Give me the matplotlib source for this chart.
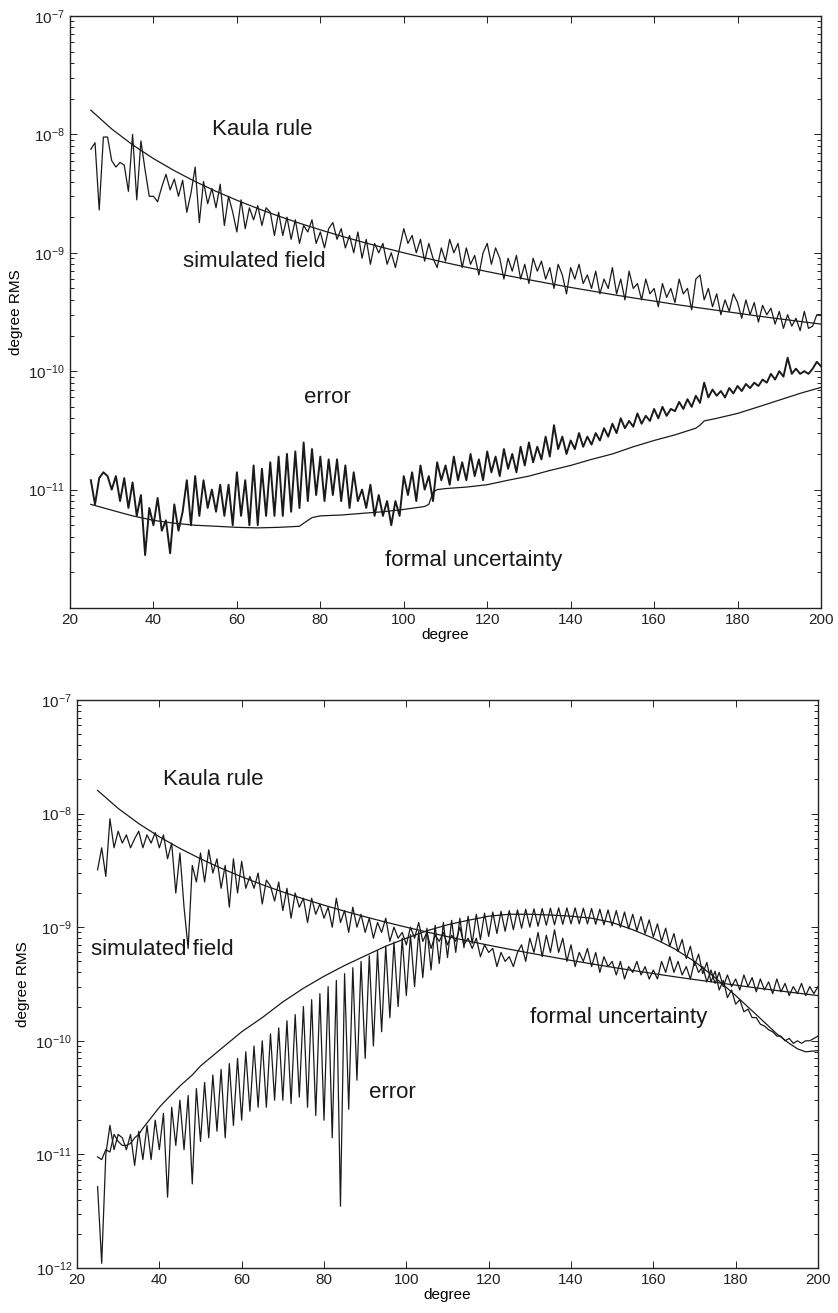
import numpy as np
import matplotlib
matplotlib.use("Agg")
import matplotlib.pyplot as plt
from matplotlib.ticker import FixedLocator, LogLocator, NullFormatter, FuncFormatter

plt.rcParams['font.family'] = ['Liberation Sans', 'DejaVu Sans']
plt.rcParams['mathtext.fontset'] = 'custom'
plt.rcParams['mathtext.rm'] = 'Liberation Sans'
plt.rcParams['mathtext.it'] = 'Liberation Sans:italic'
plt.rcParams['mathtext.default'] = 'regular'

# ---------------------------------------------------------------- data
degrees = np.arange(25, 201)

# Kaula rule (units 1e-9)
kaula_deg = np.arange(25, 201, 5)
kaula_val = [16.0, 11.11, 8.163, 6.25, 4.938, 4.0, 3.306, 2.778, 2.367, 2.041,
             1.778, 1.5625, 1.384, 1.235, 1.108, 1.0, 0.907, 0.826, 0.756, 0.694,
             0.64, 0.592, 0.549, 0.510, 0.476, 0.444, 0.416, 0.391, 0.367, 0.346,
             0.327, 0.309, 0.292, 0.277, 0.263, 0.25]

# upper panel: simulated field (units 1e-9), one value per degree 25..200
sim_top = [7.5, 8.5, 2.3, 9.5, 9.5, 6.0, 5.3, 5.8, 5.5, 3.3,
           10.0, 2.8, 8.8, 5.0, 3.0, 3.0, 2.7, 3.6, 4.6, 3.4,
           4.2, 3.0, 4.1, 2.2, 3.2, 5.3, 1.8, 4.0, 2.6, 3.5,
           2.4, 3.8, 1.7, 3.0, 2.2, 1.5, 2.8, 1.6, 2.4, 1.9,
           2.5, 1.7, 2.4, 2.2, 1.4, 2.2, 1.4, 2.0, 1.3, 1.9,
           1.2, 1.7, 1.5, 1.9, 1.2, 1.5, 1.1, 1.6, 1.8, 1.3,
           1.6, 1.1, 1.4, 1.0, 1.5, 0.9, 1.3, 0.8, 1.2, 1.0,
           1.2, 0.8, 1.0, 0.75, 1.1, 1.6, 1.2, 1.4, 1.0, 1.3,
           0.85, 1.2, 0.9, 0.75, 1.1, 0.85, 1.3, 1.0, 1.2, 0.75,
           1.1, 0.8, 0.95, 0.65, 1.0, 1.2, 0.8, 1.1, 0.9, 0.6,
           0.9, 0.7, 0.95, 0.6, 0.8, 0.55, 0.9, 0.7, 0.85, 0.6,
           0.75, 0.5, 0.8, 0.65, 0.45, 0.75, 0.6, 0.8, 0.55, 0.65,
           0.5, 0.7, 0.45, 0.6, 0.5, 0.75, 0.45, 0.6, 0.4, 0.7,
           0.5, 0.55, 0.4, 0.6, 0.45, 0.5, 0.35, 0.55, 0.42, 0.5,
           0.38, 0.6, 0.45, 0.5, 0.33, 0.6, 0.65, 0.4, 0.5, 0.35,
           0.45, 0.3, 0.4, 0.32, 0.45, 0.38, 0.28, 0.4, 0.3, 0.38,
           0.26, 0.36, 0.3, 0.34, 0.25, 0.32, 0.23, 0.3, 0.24, 0.28,
           0.22, 0.32, 0.23, 0.24, 0.3, 0.3]

# upper panel: error (units 1e-12)
err_top = [12, 7.5, 12.5, 14, 13, 10, 13, 8, 12.5, 7,
           11.5, 6, 9, 2.8, 7, 5, 8.5, 4.5, 5.5, 2.9,
           7.5, 4.5, 6.5, 12, 5, 13, 6, 12, 7, 10,
           6.5, 11, 6, 11, 5, 14, 6, 12, 5, 16,
           5, 15, 6, 17, 6, 19, 6, 20, 6.5, 21,
           7, 25, 8, 22, 9, 19, 8, 18, 9, 18,
           8, 16, 7, 14, 8, 10, 7, 11, 6, 9,
           6, 8, 5, 8, 6, 13, 9, 14, 8, 16,
           10, 13, 8, 17, 12, 16, 11, 19, 12, 17,
           12, 20, 13, 18, 12, 21, 14, 19, 13, 22,
           15, 20, 14, 23, 16, 25, 17, 23, 18, 28,
           19, 35, 22, 28, 20, 26, 22, 30, 23, 28,
           24, 30, 26, 33, 28, 36, 30, 40, 33, 38,
           34, 44, 36, 42, 38, 48, 40, 50, 42, 48,
           46, 55, 48, 58, 50, 62, 54, 80, 60, 70,
           62, 68, 60, 72, 65, 75, 68, 78, 72, 80,
           75, 85, 80, 95, 85, 100, 90, 130, 95, 105,
           95, 100, 95, 105, 120, 110]

# upper panel: formal uncertainty (units 1e-12)
formal_top_deg = [25, 30, 35, 40, 45, 50, 55, 60, 65, 70, 75, 76, 78, 80, 85, 90,
                  95, 100, 105, 106, 107, 108, 110, 115, 120, 125, 130, 135, 140,
                  145, 150, 155, 160, 165, 170, 171, 172, 175, 180, 185, 190, 195, 200]
formal_top_val = [7.5, 6.7, 6.0, 5.5, 5.2, 5.0, 4.9, 4.8, 4.75, 4.8, 4.9, 5.2, 5.8,
                  6.0, 6.1, 6.3, 6.5, 6.8, 7.2, 7.5, 9.5, 10.0, 10.2, 10.5, 11, 12,
                  13, 14.5, 16, 18, 20, 23, 26, 29, 33, 35, 38, 40, 44, 50, 57, 65, 73]

# lower panel: simulated field (units 1e-9)
sim_bot = [3.2, 5.0, 2.8, 9.0, 5.0, 7.0, 5.5, 6.5, 5.0, 6.0,
           7.0, 5.0, 6.5, 5.5, 6.8, 5.0, 6.5, 4.0, 5.5, 2.0,
           4.5, 1.5, 0.65, 3.5, 2.5, 4.5, 2.5, 4.8, 3.0, 4.0,
           2.2, 3.5, 1.5, 4.0, 2.0, 3.8, 2.2, 2.8, 2.2, 3.0,
           1.6, 2.6, 2.3, 1.7, 2.5, 1.4, 2.2, 1.2, 2.0, 1.5,
           1.8, 1.1, 1.8, 1.3, 1.6, 1.2, 1.5, 1.0, 1.8, 1.1,
           1.4, 0.9, 1.5, 1.0, 1.3, 0.9, 1.2, 0.8, 1.1, 0.9,
           1.2, 0.75, 1.0, 0.8, 0.9, 0.7, 1.0, 0.8, 1.1, 0.75,
           0.9, 0.65, 0.85, 0.75, 0.9, 0.7, 0.85, 0.75, 1.0, 0.7,
           0.8, 0.65, 0.8, 0.55, 0.7, 0.6, 0.65, 0.45, 0.6, 0.5,
           0.55, 0.45, 0.6, 0.7, 0.5, 0.8, 0.6, 0.9, 0.55, 0.85,
           0.6, 0.95, 0.6, 0.8, 0.5, 0.7, 0.45, 0.6, 0.5, 0.65,
           0.45, 0.6, 0.4, 0.55, 0.45, 0.5, 0.38, 0.5, 0.35, 0.45,
           0.4, 0.5, 0.38, 0.45, 0.35, 0.42, 0.35, 0.5, 0.4, 0.55,
           0.4, 0.5, 0.38, 0.45, 0.35, 0.5, 0.4, 0.45, 0.33, 0.42,
           0.32, 0.4, 0.3, 0.38, 0.3, 0.35, 0.28, 0.38, 0.3, 0.36,
           0.27, 0.35, 0.28, 0.33, 0.26, 0.35, 0.27, 0.32, 0.25, 0.3,
           0.26, 0.32, 0.25, 0.3, 0.26, 0.3]

# lower panel: error (units 1e-12)
err_bot = [5.2, 1.1, 10, 18, 11, 15, 14, 11, 15, 8,
           16, 9, 18, 9, 20, 11, 23, 4.2, 26, 12,
           30, 11, 33, 5.5, 38, 13, 43, 14, 50, 16,
           56, 14, 63, 18, 70, 20, 80, 24, 90, 26,
           100, 26, 115, 30, 130, 30, 150, 28, 170, 32,
           200, 26, 230, 22, 260, 20, 300, 14, 340, 3.5,
           390, 25, 440, 45, 500, 70, 560, 90, 620, 120,
           680, 160, 740, 200, 800, 250, 860, 300, 920, 360,
           980, 420, 1040, 480, 1100, 540, 1150, 600, 1200, 660,
           1250, 720, 1300, 780, 1330, 830, 1360, 880, 1380, 920,
           1400, 950, 1420, 980, 1440, 1000, 1450, 1020, 1460, 1040,
           1470, 1050, 1480, 1060, 1480, 1070, 1480, 1070, 1470, 1070,
           1460, 1060, 1440, 1050, 1420, 1030, 1400, 1000, 1360, 970,
           1300, 930, 1240, 880, 1160, 820, 1070, 750, 980, 680,
           880, 610, 780, 530, 680, 460, 580, 390, 490, 330,
           410, 280, 340, 240, 280, 210, 230, 180, 190, 160,
           160, 140, 135, 125, 120, 110, 110, 100, 105, 95,
           100, 95, 100, 100, 105, 110]

# lower panel: formal uncertainty (units 1e-12)
formal_bot_deg = [25, 26, 27, 28, 29, 30, 31, 32, 33, 34, 35, 36, 38, 40, 42, 45, 48,
                  50, 55, 60, 65, 70, 75, 80, 85, 90, 95, 100, 105, 110, 115, 120,
                  125, 130, 135, 140, 145, 150, 155, 160, 165, 170, 175, 180, 185,
                  190, 193, 195, 197, 200]
formal_bot_val = [9.5, 9.0, 11, 10.5, 15, 13, 12, 12, 12.5, 14, 15, 17, 21, 26, 31,
                  40, 50, 60, 85, 120, 160, 220, 290, 370, 460, 560, 680, 800, 930,
                  1050, 1150, 1250, 1300, 1300, 1280, 1250, 1200, 1100, 950, 800,
                  650, 500, 360, 250, 170, 115, 95, 85, 80, 82]

# ---------------------------------------------------------------- figure
W, H = 838, 1313
fig = plt.figure(figsize=(W / 100, H / 100), dpi=100)


def frame(l, r, t, b):
    return [l / W, 1 - b / H, (r - l) / W, (b - t) / H]


ax_top = fig.add_axes(frame(70, 821, 16, 608))
ax_bot = fig.add_axes(frame(77, 818, 700, 1268))

sup = {-7: r'$10^{-7}$', -8: r'$10^{-8}$', -9: r'$10^{-9}$', -10: r'$10^{-10}$',
       -11: r'$10^{-11}$', -12: r'$10^{-12}$'}


def style(ax, show_bottom_label):
    ax.set_yscale('log')
    ax.set_xlim(20, 200)
    ax.set_ylim(1e-12, 1e-7)
    ax.xaxis.set_major_locator(FixedLocator(np.arange(20, 201, 20)))
    dec = [10.0 ** k for k in range(-12, -6)]
    ax.yaxis.set_major_locator(FixedLocator(dec))
    ax.yaxis.set_minor_locator(LogLocator(base=10, subs=np.arange(2, 10), numticks=20))
    ax.yaxis.set_minor_formatter(NullFormatter())

    def fmt(v, pos):
        k = int(round(np.log10(v)))
        if k == -12 and not show_bottom_label:
            return ''
        return sup[k]
    ax.yaxis.set_major_formatter(FuncFormatter(fmt))
    ax.tick_params(which='both', direction='in', top=True, right=True,
                   labelsize=11, colors='#222222', width=0.7)
    ax.tick_params(which='major', length=5)
    ax.tick_params(which='minor', length=3)
    for s in ax.spines.values():
        s.set_linewidth(1.0)
        s.set_color('#222222')
    ax.set_xlabel('degree', fontsize=11, labelpad=1)
    ax.set_ylabel('degree RMS', fontsize=11, labelpad=4)


style(ax_top, False)
style(ax_bot, True)

k_vals = np.array(kaula_val) * 1e-9
lc = '#1a1a1a'

# upper panel
ax_top.plot(kaula_deg, k_vals, color=lc, lw=0.9)
ax_top.plot(degrees, np.array(sim_top) * 1e-9, color=lc, lw=0.9)
ax_top.plot(degrees, np.array(err_top) * 1e-12, color=lc, lw=1.4)
ax_top.plot(formal_top_deg, np.array(formal_top_val) * 1e-12, color=lc, lw=0.9)

tkw = dict(fontsize=16, color='#1a1a1a', va='center', ha='left')
ax_top.text(54, 1.1e-8, 'Kaula rule', **tkw)
ax_top.text(47, 8.5e-10, 'simulated field', **tkw)
ax_top.text(76, 6e-11, 'error', **tkw)
ax_top.text(95.5, 2.5e-12, 'formal uncertainty', **tkw)

# lower panel
ax_bot.plot(kaula_deg, k_vals, color=lc, lw=0.9)
ax_bot.plot(degrees, np.array(sim_bot) * 1e-9, color=lc, lw=0.9)
ax_bot.plot(degrees, np.array(err_bot) * 1e-12, color=lc, lw=0.9)
ax_bot.plot(formal_bot_deg, np.array(formal_bot_val) * 1e-12, color=lc, lw=0.9)

ax_bot.text(41, 2e-8, 'Kaula rule', **tkw)
ax_bot.text(23.3, 6.3e-10, 'simulated field', **tkw)
ax_bot.text(130, 1.6e-10, 'formal uncertainty', **tkw)
ax_bot.text(91, 3.5e-11, 'error', **tkw)

fig.savefig('out.png', dpi=100)
